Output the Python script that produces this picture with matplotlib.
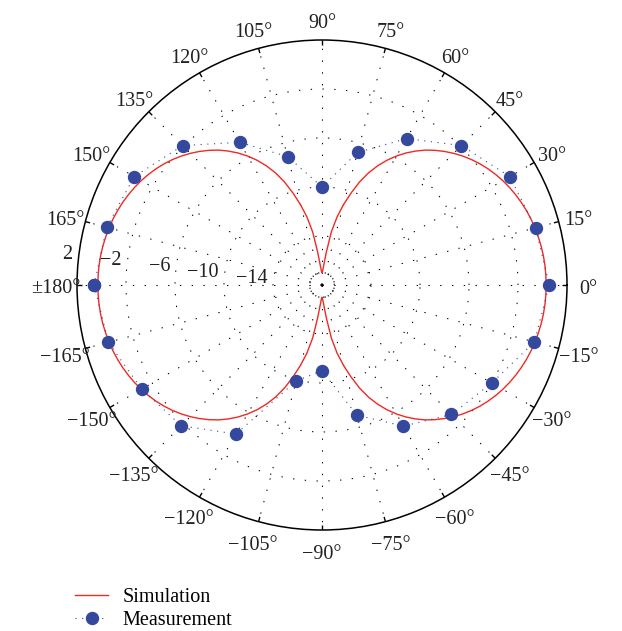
import numpy as np
import matplotlib
matplotlib.use('Agg')
import matplotlib.pyplot as plt
from matplotlib.transforms import ScaledTranslation

plt.rcParams['font.family'] = ['Liberation Serif', 'DejaVu Serif']

# simulated pattern (dB), one value every 2.5 degrees from -180 to 180
sim_deg = np.arange(-180, 180.1, 2.5)
sim_db = [
    # -180 .. -90
    0.3, 0.29, 0.27, 0.23, 0.17, 0.09, 0.0, -0.11, -0.24, -0.39, -0.56, -0.75,
    -0.96, -1.2, -1.46, -1.75, -2.07, -2.42, -2.8, -3.21, -3.65, -4.12, -4.65,
    -5.22, -5.84, -6.52, -7.27, -8.1, -9.05, -10.14, -11.2, -12.3, -13.6, -15.3,
    -16.4, -16.85, -17.0,
    # -87.5 .. 0
    -16.85, -16.4, -15.3, -13.6, -12.3, -11.2, -10.14, -9.05, -8.1, -7.27, -6.52,
    -5.84, -5.22, -4.65, -4.12, -3.65, -3.21, -2.8, -2.42, -2.07, -1.75, -1.46,
    -1.2, -0.96, -0.75, -0.56, -0.39, -0.24, -0.11, 0.0, 0.09, 0.17, 0.23, 0.27,
    0.29, 0.3,
    # 2.5 .. 90
    0.29, 0.27, 0.23, 0.17, 0.09, 0.0, -0.11, -0.24, -0.39, -0.56, -0.75,
    -0.96, -1.2, -1.46, -1.75, -2.07, -2.42, -2.8, -3.21, -3.65, -4.12, -4.65,
    -5.22, -5.84, -6.52, -7.27, -8.1, -9.05, -10.14, -11.2, -12.3, -13.6, -15.3,
    -16.4, -16.85, -17.0,
    # 92.5 .. 180
    -16.85, -16.4, -15.3, -13.6, -12.3, -11.2, -10.14, -9.05, -8.1, -7.27, -6.52,
    -5.84, -5.22, -4.65, -4.12, -3.65, -3.21, -2.8, -2.42, -2.07, -1.75, -1.46,
    -1.2, -0.96, -0.75, -0.56, -0.39, -0.24, -0.11, 0.0, 0.09, 0.17, 0.23, 0.27,
    0.29, 0.3,
]
assert len(sim_db) == len(sim_deg)

# measured pattern (dB), every 15 degrees
meas_deg = [-180, -165, -150, -135, -120, -105, -90, -75, -60, -45, -30, -15,
            0, 15, 30, 45, 60, 75, 90, 105, 120, 135, 150, 165, 180]
meas_db = [0.6, 0.05, -1.0, -1.75, -3.95, -9.9, -11.0, -7.0, -4.7, -3.05, -2.0, -0.05,
           0.55, 0.05, -0.3, -1.9, -4.2, -6.8, -10.0, -7.15, -4.55, -1.9, -0.3, 0.2, 0.6]

ring_vals = [-17, -14, -10, -6, -2]
ring_labels = ['2', '\u22122', '\u22126', '\u221210', '\u221214']
ring_label_pos = [2, -2, -6, -10, -14]

ang_ticks = list(range(0, 360, 15))
ang_labels = ['0\u00b0', '15\u00b0', '30\u00b0', '45\u00b0', '60\u00b0', '75\u00b0', '90\u00b0',
              '105\u00b0', '120\u00b0', '135\u00b0', '150\u00b0', '165\u00b0', '\u00b1180\u00b0',
              '\u2212165\u00b0', '\u2212150\u00b0', '\u2212135\u00b0', '\u2212120\u00b0',
              '\u2212105\u00b0', '\u221290\u00b0', '\u221275\u00b0', '\u221260\u00b0',
              '\u221245\u00b0', '\u221230\u00b0', '\u221215\u00b0']

fig = plt.figure(figsize=(6.22, 6.31), dpi=100)
ax = fig.add_axes([77 / 622, 101 / 631, 490 / 622, 490 / 631], projection='polar')

l1, = ax.plot(np.deg2rad(sim_deg), sim_db, color='#ee2a24', lw=1.0)
l2, = ax.plot(np.deg2rad(meas_deg), meas_db, color='#34499e', lw=0.8,
              linestyle=(0, (1, 5)), marker='o', markersize=8.6)

ax.set_rlim(-18, 2)
ax.set_yticks(ring_vals)
ax.set_yticklabels([])
ax.set_xticks(np.deg2rad(ang_ticks))
ax.set_xticklabels([])
ax.tick_params(axis='both', length=0)
ax.grid(True, color='k', linestyle=(0, (1.3, 10)), linewidth=0.75)
ax.spines['polar'].set_linewidth(1.1)
ax.spines['polar'].set_color('k')

# short inward ticks on the outer circle (polar theta ticks don't show here)
ax.vlines(np.deg2rad(ang_ticks), 1.6, 2, colors='k', lw=1.0)

# angle labels sit a few pixels lower than a plain centre alignment gives
shift = ax.transData + ScaledTranslation(0, -0.04, fig.dpi_scale_trans)
for a, lab in zip(ang_ticks, ang_labels):
    ax.text(np.deg2rad(a), 3.7, lab, ha='center', va='center', fontsize=14.5,
            color='#222222', clip_on=False, transform=shift)

for v, lab in zip(ring_label_pos, ring_labels):
    ax.text(np.deg2rad(173), v + 0.5, lab, ha='right', va='center', fontsize=14.5,
            color='#222222', clip_on=False)

fig.legend([l1, l2], ['Simulation', 'Measurement'], loc='upper left',
           bbox_to_anchor=(75 / 622, 1 - 588 / 631), frameon=False, fontsize=14.5,
           handlelength=1.65, handletextpad=0.7, labelspacing=0.2,
           borderpad=0, borderaxespad=0)

fig.savefig('out.png', dpi=100)
